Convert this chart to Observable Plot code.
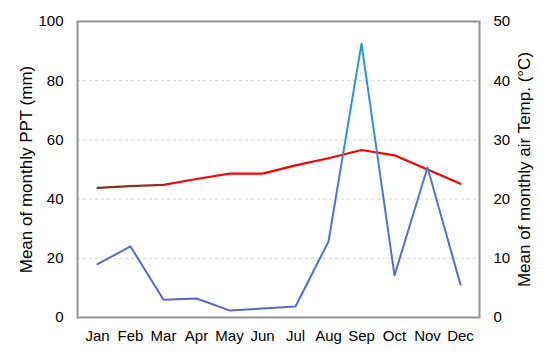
<!DOCTYPE html>
<html>
<head>
<meta charset="utf-8">
<script src="https://cdn.jsdelivr.net/npm/d3@7"></script>
<script src="https://cdn.jsdelivr.net/npm/@observablehq/plot@0.6"></script>
<style>
  html, body { margin: 0; padding: 0; background: #fff; }
  #chart svg { display: block; }
</style>
</head>
<body>
<div id="chart"></div>
<script>
const months = ["Jan","Feb","Mar","Apr","May","Jun","Jul","Aug","Sep","Oct","Nov","Dec"];
const ppt = [18.0, 24.0, 6.0, 6.4, 2.4, 3.0, 3.7, 25.7, 92.5, 14.2, 50.7, 11.1];
const temp = [21.9, 22.2, 22.4, 23.4, 24.3, 24.3, 25.7, 26.9, 28.3, 27.4, 25.0, 22.6];
const pptTicks = [0, 20, 40, 60, 80, 100];
const tempTicks = [0, 10, 20, 30, 40, 50];
const leftTitle = "Mean of monthly PPT (mm)";
const rightTitle = "Mean of monthly air Temp. (°C)";

const rows = months.map((m, i) => ({month: m, ppt: ppt[i], temp: temp[i]}));
const font = "'Liberation Sans', Arial, sans-serif";

const chart = Plot.plot({
  width: 550,
  height: 360,
  marginLeft: 77,
  marginRight: 71,
  marginTop: 21,
  marginBottom: 43,
  style: {fontFamily: font, fontSize: "15px", color: "#000", background: "#fff"},
  x: {type: "point", domain: months, padding: 0.5},
  y: {domain: [0, 100]},
  marks: [
    Plot.gridY([20, 40, 60, 80], {stroke: "#d6d6d6", strokeOpacity: 1, strokeDasharray: "3,3"}),
    Plot.axisX({tickSize: 0, tickPadding: 13, fontSize: 15, label: null}),
    Plot.axisY(pptTicks, {anchor: "left", tickSize: 0, tickPadding: 14, fontSize: 15, label: null}),
    Plot.axisY(tempTicks.map(t => t * 2), {anchor: "right", tickSize: 0, tickPadding: 14, fontSize: 15, label: null, tickFormat: d => d / 2}),
    Plot.line(rows, {x: "month", y: d => d.temp * 2, stroke: "url(#tempGrad)", strokeWidth: 2.2, className: "templine"}),
    Plot.line(rows, {x: "month", y: "ppt", stroke: "url(#pptGrad)", strokeWidth: 2, className: "pptline"}),
    Plot.frame({stroke: "#939393", strokeWidth: 2}),
    Plot.text([leftTitle], {frameAnchor: "left", dx: -51, rotate: -90, textAnchor: "middle", lineAnchor: "middle", fontSize: 17, text: d => d}),
    Plot.text([rightTitle], {frameAnchor: "right", dx: 45, rotate: -90, textAnchor: "middle", lineAnchor: "middle", fontSize: 17, text: d => d})
  ]
});

// gradients
const svg = d3.select(chart);
const ys = chart.scale("y");
const xs = chart.scale("x");
const defs = svg.insert("defs", ":first-child");
const g1 = defs.append("linearGradient").attr("id", "pptGrad")
  .attr("gradientUnits", "userSpaceOnUse")
  .attr("x1", 0).attr("x2", 0)
  .attr("y1", ys.apply(0)).attr("y2", ys.apply(100));
[[0, "#5566cc"], [0.42, "#5a6fd0"], [0.6, "#3090d6"], [1, "#1a9fd8"]].forEach(([o, c]) =>
  g1.append("stop").attr("offset", o).attr("stop-color", c));
const g2 = defs.append("linearGradient").attr("id", "tempGrad")
  .attr("gradientUnits", "userSpaceOnUse")
  .attr("y1", 0).attr("y2", 0)
  .attr("x1", xs.apply("Jan")).attr("x2", xs.apply("Apr"));
[[0, "#7a3320"], [0.55, "#8a3020"], [0.75, "#e01010"], [1, "#ff0000"]].forEach(([o, c]) =>
  g2.append("stop").attr("offset", o).attr("stop-color", c));
svg.selectAll(".pptline, .pptline path").attr("stroke", "url(#pptGrad)");
svg.selectAll(".templine, .templine path").attr("stroke", "url(#tempGrad)");

document.getElementById("chart").appendChild(chart);
</script>
</body>
</html>
